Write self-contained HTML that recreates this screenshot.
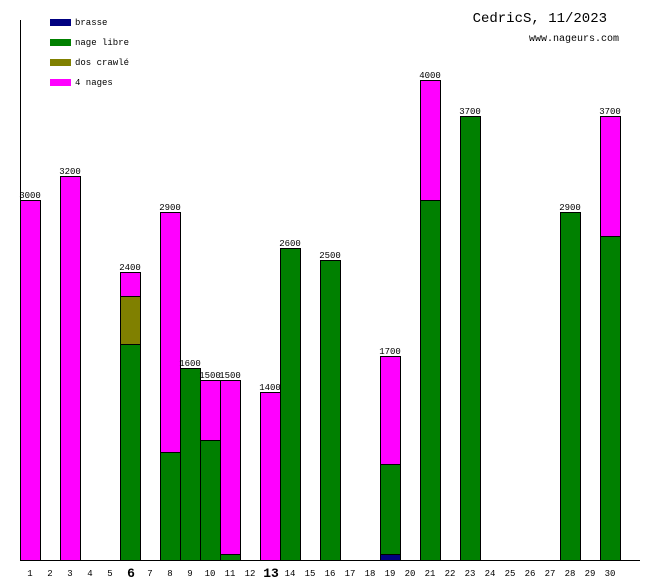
<!DOCTYPE html>
<html><head><style>body{margin:0;background:#fff}svg{display:block}text{font-family:"Liberation Mono","DejaVu Sans Mono",monospace}</style></head><body>
<svg width="660" height="580" xmlns="http://www.w3.org/2000/svg">
<rect width="660" height="580" fill="#fff"/>
<g id="bars" stroke="#000" stroke-width="1" shape-rendering="crispEdges"></g>
<line x1="20.5" y1="20" x2="20.5" y2="560" stroke="#000"/>
<line x1="20" y1="560.5" x2="640" y2="560.5" stroke="#000"/>
<g font-size="9">
<rect x="50" y="19" width="21" height="7" fill="#000080"/><text x="75" y="25">brasse</text>
<rect x="50" y="39" width="21" height="7" fill="#008000"/><text x="75" y="45">nage libre</text>
<rect x="50" y="59" width="21" height="7" fill="#808000"/><text x="75" y="65">dos crawlé</text>
<rect x="50" y="79" width="21" height="7" fill="#ff00ff"/><text x="75" y="85">4 nages</text>
</g>
<text x="607" y="22" font-size="14" text-anchor="end">CedricS, 11/2023</text>
<text x="619" y="41" font-size="10" text-anchor="end">www.nageurs.com</text>
<g id="labels" font-size="9" text-anchor="middle"></g>
<script>
var B=document.getElementById('bars'),L=document.getElementById('labels');
var C={b:'#000080',n:'#008000',d:'#808000',m:'#ff00ff'};
var data={1:[['m',3000]],3:[['m',3200]],6:[['n',1800],['d',400],['m',200]],8:[['n',900],['m',2000]],9:[['n',1600]],10:[['n',1000],['m',500]],11:[['n',50],['m',1450]],13:[['m',1400]],14:[['n',2600]],16:[['n',2500]],19:[['b',50],['n',750],['m',900]],21:[['n',3000],['m',1000]],23:[['n',3700]],28:[['n',2900]],30:[['n',2700],['m',1000]]};
var ns='http://www.w3.org/2000/svg';
function el(t,a,p,txt){var e=document.createElementNS(ns,t);for(var k in a)e.setAttribute(k,a[k]);if(txt)e.textContent=txt;p.appendChild(e);return e;}
for(var d=1;d<=30;d++){var x=20+(d-1)*20;
 var big=(d==6||d==13);
 el('text',{x:x+10+(big?1:0),y:big?577:576,'font-size':big?13:9,'font-weight':big?'bold':'normal'},L,String(d));
 if(!data[d])continue;var cum=0;
 data[d].forEach(function(s){var y0=560-cum*0.12;cum+=s[1];var y1=560-cum*0.12;
  el('rect',{x:x+0.5,y:Math.round(y1)+0.5,width:20,height:Math.round(y0)-Math.round(y1),fill:C[s[0]]},B);});
 el('text',{x:x+10,y:Math.round(560-cum*0.12)-2,'font-size':9},L,String(cum));
}
</script>
</svg>
</body></html>
